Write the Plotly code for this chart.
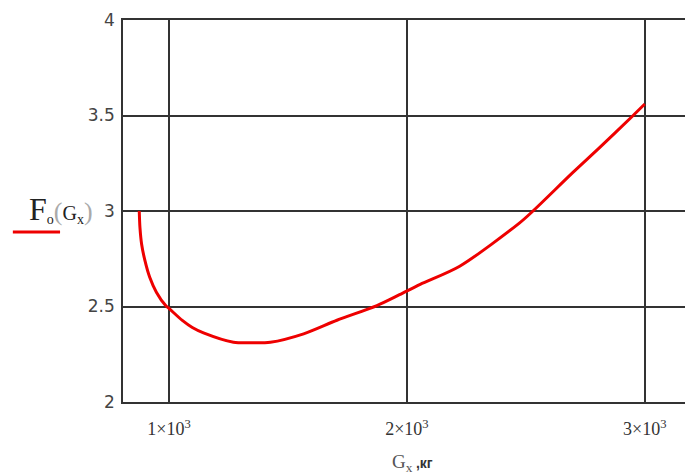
import plotly.graph_objects as go

# Data (G_x in kg, F_o(G_x))
gx = [875, 878, 885, 899, 919, 947, 986, 1000, 1056, 1098, 1145, 1271, 1350, 1426,
      1566, 1706, 1874, 1969, 2056, 2222, 2474, 2530, 2698, 2811, 2951, 3000]
fo = [3.00, 2.913, 2.826, 2.74, 2.653, 2.575, 2.505, 2.49, 2.427, 2.39, 2.362, 2.313, 2.31, 2.313,
      2.357, 2.428, 2.505, 2.562, 2.616, 2.711, 2.938, 3.00, 3.202, 3.333, 3.50, 3.56]

x_tickvals = [1000, 2000, 3000]
x_ticktext = ["1×10<sup>3</sup>", "2×10<sup>3</sup>", "3×10<sup>3</sup>"]
y_tickvals = [2, 2.5, 3, 3.5, 4]
y_ticktext = ["2", "2.5", "3", "3.5", "4"]

fig = go.Figure()
fig.add_trace(go.Scatter(x=gx, y=fo, mode="lines",
                         line=dict(color="#ee0000", width=3, shape="spline", smoothing=0.8),
                         showlegend=False, hoverinfo="skip"))

grid_col = "#333333"
fig.update_layout(
    width=685, height=472,
    margin=dict(l=123, r=0, t=20, b=70),
    paper_bgcolor="white", plot_bgcolor="white",
    xaxis=dict(range=[806.7, 3169], tickvals=x_tickvals, ticktext=x_ticktext,
               showgrid=True, gridcolor=grid_col, gridwidth=1.5,
               showline=True, linecolor=grid_col, linewidth=1.5, mirror=True,
               zeroline=False, ticks="", ticklabelstandoff=10,
               tickfont=dict(family="Liberation Serif", size=18, color="#333333")),
    yaxis=dict(range=[2, 4], tickvals=y_tickvals, ticktext=y_ticktext,
               showgrid=True, gridcolor=grid_col, gridwidth=1.5,
               showline=True, linecolor=grid_col, linewidth=1.5,
               zeroline=False, ticks="", ticklabelstandoff=3,
               tickfont=dict(family="DejaVu Sans", size=17, color="#444444")),
    annotations=[
        dict(text="<span style='font-size:32px'>F</span><sub>o</sub>"
                  "<span style='color:#aaa;font-size:26px'>(</span>G<sub>x</sub>"
                  "<span style='color:#aaa;font-size:26px'>)</span>",
             xref="paper", yref="paper", x=-0.17, y=0.505, xanchor="left", yanchor="middle",
             showarrow=False, font=dict(family="Liberation Serif", size=20, color="#222222")),
        dict(text="<span style='color:#555;font-size:19px'>G<sub>x</sub></span>"
                  " <b><span style='font-family:Liberation Sans'>,кг</span></b>",
             xref="paper", yref="paper", x=0.515, y=-0.16, xanchor="center", yanchor="middle",
             showarrow=False, font=dict(family="Liberation Serif", size=14, color="#333333")),
    ],
    shapes=[dict(type="line", xref="paper", yref="paper", x0=-0.196, x1=-0.112,
                 y0=0.445, y1=0.445, line=dict(color="#ee0000", width=3))],
)

fig.write_html("out.html", config={"displayModeBar": False},
               post_script="document.body.style.margin='0';document.body.style.padding='0';")
